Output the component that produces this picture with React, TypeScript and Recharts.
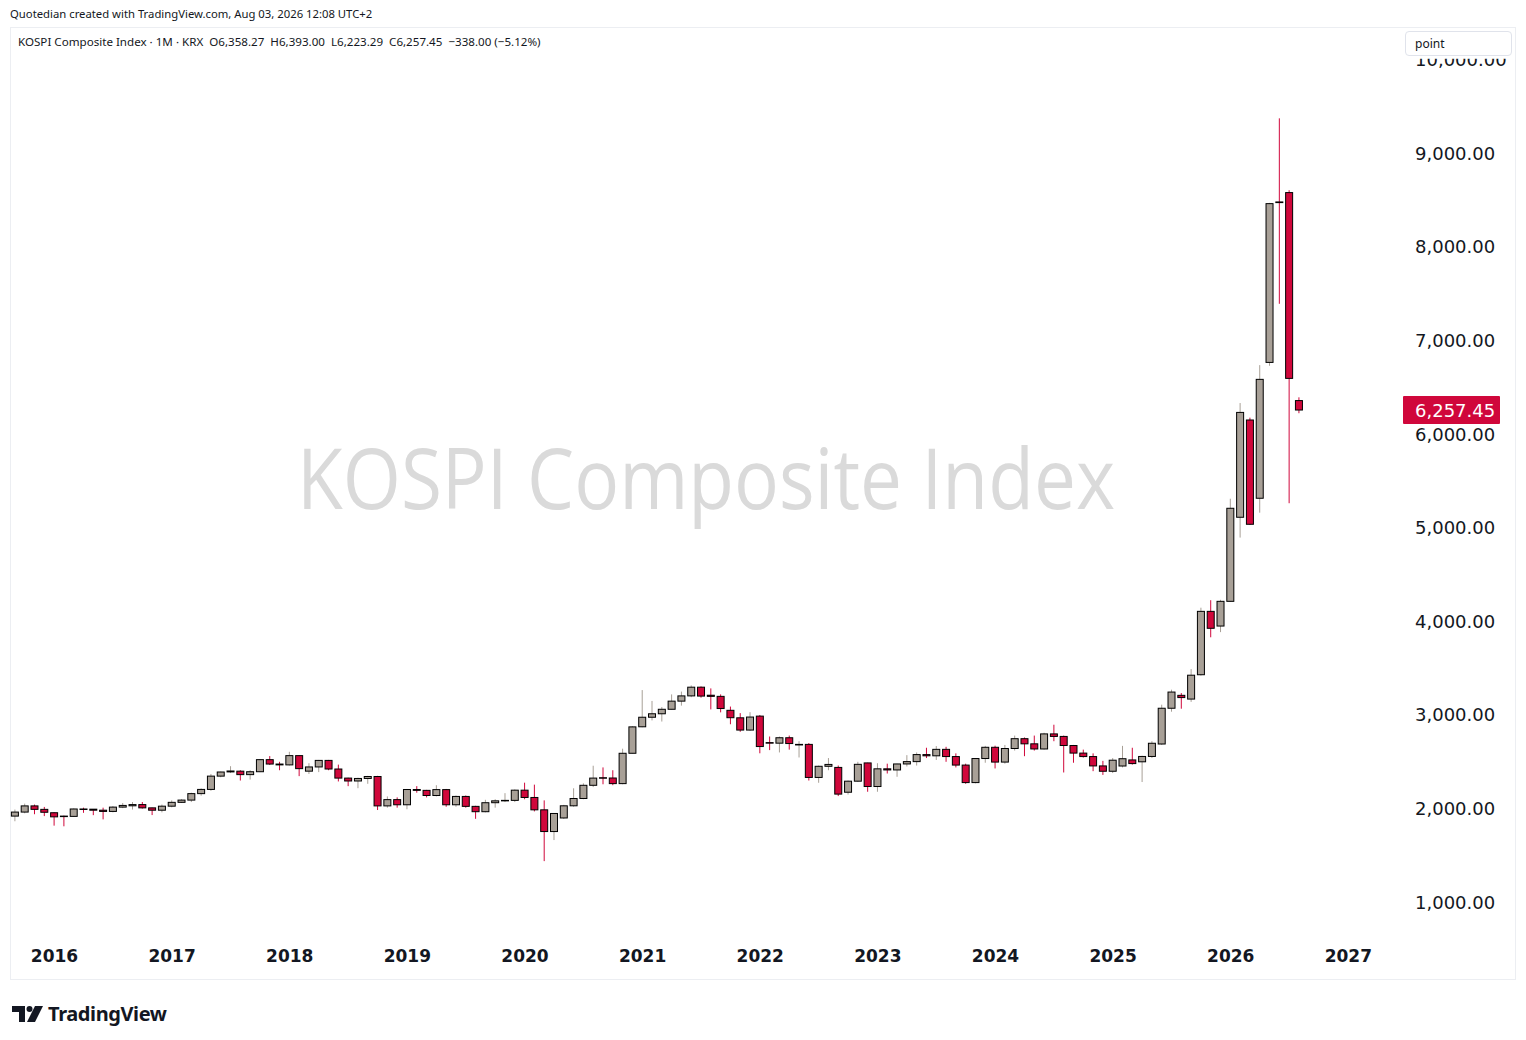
import React from "react";
import { ComposedChart, Bar, XAxis, YAxis } from "recharts";

// monthly candles, Sep 2015 .. Aug 2026 (t = months from Jan 2016)
const firstMonth = -4;

const opens = [
  1920, 1963, 2029, 1992,
  1956, 1920, 1917, 1996, 1994, 1983, 1970, 2016, 2030, 2043, 2008, 1983,
  2026, 2067, 2091, 2160, 2205, 2347, 2392, 2400, 2363, 2394, 2523, 2476,
  2467, 2566, 2400, 2445, 2515, 2423, 2326, 2295, 2322, 2343, 2029, 2096,
  2041, 2204, 2195, 2140, 2203, 2041, 2130, 2024, 1967, 2063, 2083, 2088,
  2197, 2119, 1987, 1755, 1900, 2030, 2108, 2249, 2330, 2327, 2267, 2591,
  2874, 2976, 3013, 3061, 3148, 3204, 3297, 3211, 3199, 3050, 2970, 2839,
  2988, 2705, 2699, 2757, 2680, 2686, 2333, 2452, 2440, 2175, 2293, 2488,
  2236, 2425, 2413, 2477, 2502, 2577, 2564, 2633, 2556, 2465, 2278, 2535,
  2655, 2497, 2642, 2747, 2692, 2637, 2798, 2771, 2674, 2593, 2556, 2456,
  2399, 2455, 2520, 2500, 2557, 2690, 3072, 3210, 3170, 3430, 4107, 3950,
  4214, 5112, 6151, 5315, 6766, 8480, 8580, 6358.27,
];
const highs = [
  1990, 2053, 2043, 2018,
  1960, 1925, 2002, 2010, 1995, 2010, 2027, 2060, 2070, 2070, 2010, 2043,
  2088, 2100, 2170, 2216, 2370, 2395, 2453, 2410, 2410, 2530, 2561, 2500,
  2607, 2570, 2485, 2520, 2520, 2470, 2330, 2330, 2350, 2350, 2130, 2120,
  2210, 2240, 2200, 2250, 2210, 2140, 2140, 2030, 2094, 2100, 2165, 2205,
  2277, 2256, 2088, 1950, 2040, 2217, 2270, 2458, 2440, 2410, 2640, 2880,
  3266, 3150, 3085, 3220, 3250, 3316, 3305, 3284, 3220, 3090, 3020, 3030,
  3000, 2770, 2770, 2780, 2720, 2700, 2460, 2540, 2460, 2300, 2500, 2490,
  2485, 2480, 2480, 2571, 2600, 2650, 2668, 2660, 2590, 2480, 2535, 2670,
  2672, 2680, 2780, 2760, 2780, 2810, 2896, 2780, 2680, 2630, 2590, 2510,
  2540, 2670, 2650, 2565, 2720, 3110, 3270, 3234, 3490, 4146, 4226, 4230,
  5310, 6332, 6176, 6737, 8470, 9373, 8605, 6393.0,
];
const lows = [
  1865, 1950, 1940, 1920,
  1818, 1811, 1915, 1955, 1930, 1885, 1960, 2005, 1990, 2000, 1931, 1960,
  2014, 2060, 2070, 2138, 2190, 2335, 2380, 2300, 2310, 2390, 2466, 2410,
  2460, 2347, 2370, 2390, 2410, 2290, 2240, 2218, 2265, 1985, 2010, 2010,
  1993, 2170, 2120, 2130, 2020, 2020, 2010, 1891, 1960, 2010, 2070, 2070,
  2100, 1970, 1439, 1664, 1890, 2020, 2100, 2230, 2260, 2250, 2260, 2590,
  2869, 2942, 2930, 3060, 3100, 3190, 3185, 3060, 3028, 2901, 2820, 2830,
  2591, 2625, 2600, 2630, 2546, 2300, 2276, 2410, 2134, 2150, 2285, 2180,
  2180, 2375, 2340, 2450, 2460, 2540, 2520, 2500, 2440, 2265, 2270, 2490,
  2429, 2480, 2620, 2560, 2620, 2630, 2720, 2386, 2490, 2545, 2400, 2360,
  2380, 2440, 2470, 2284, 2540, 2680, 3035, 3067, 3140, 3420, 3830, 3885,
  4210, 4895, 5030, 5161, 6730, 7392, 5262, 6223.29,
];
const closes = [
  1963, 2029, 1992, 1961,
  1912, 1917, 1996, 1994, 1983, 1970, 2016, 2034, 2043, 2008, 1983, 2026,
  2067, 2091, 2160, 2205, 2347, 2391, 2402, 2363, 2394, 2523, 2476, 2467,
  2566, 2427, 2445, 2515, 2423, 2326, 2295, 2322, 2343, 2029, 2096, 2041,
  2204, 2195, 2140, 2203, 2041, 2130, 2024, 1967, 2063, 2083, 2088, 2197,
  2119, 1987, 1755, 1948, 2030, 2108, 2249, 2326, 2327, 2267, 2591, 2873,
  2976, 3013, 3061, 3148, 3204, 3297, 3202, 3199, 3069, 2971, 2839, 2978,
  2663, 2699, 2757, 2695, 2686, 2333, 2452, 2472, 2155, 2293, 2473, 2236,
  2425, 2413, 2477, 2502, 2577, 2564, 2633, 2556, 2465, 2278, 2535, 2655,
  2497, 2642, 2747, 2692, 2637, 2798, 2771, 2674, 2593, 2556, 2456, 2399,
  2517, 2533, 2481, 2557, 2698, 3072, 3245, 3186, 3425, 4107, 3926, 4214,
  5208, 6232, 5037, 6585, 8462, 8473, 6595.45, 6257.45,
];

const yearLabels = ["2016", "2017", "2018", "2019", "2020", "2021", "2022", "2023", "2024", "2025", "2026", "2027"];
const yearTicks = yearLabels.map((_, i) => i * 12);
const priceTicks = [1000, 2000, 3000, 4000, 5000, 6000, 7000, 8000, 9000, 10000];
const lastClose = closes[closes.length - 1];

const data = opens.map((o, i) => ({
  t: firstMonth + i,
  open: o,
  high: highs[i],
  low: lows[i],
  close: closes[i],
}));

const UP = "#a8a097";
const DOWN = "#d0073b";
const AXIS_FONT = "'DejaVu Sans', sans-serif";

const fmt = (v: number) =>
  v.toLocaleString("en-US", { minimumFractionDigits: 2, maximumFractionDigits: 2 });

const Candle = (props: any) => {
  const { x, y, width, height, payload } = props;
  if (!payload) return null;
  const { open, close, high, low } = payload;
  const top = Math.min(y, y + height);
  const bot = Math.max(y, y + height);
  const span = high - low || 1;
  const toY = (v: number) => top + ((high - v) / span) * (bot - top);
  const cx = x + width / 2;
  const up = close >= open;
  const bTop = toY(Math.max(open, close));
  const bBot = toY(Math.min(open, close));
  const bw = 7;
  return (
    <g>
      <line x1={cx} x2={cx} y1={top} y2={bot} stroke={up ? UP : DOWN} strokeWidth={1} />
      <rect
        x={cx - bw / 2}
        y={bTop}
        width={bw}
        height={Math.max(bBot - bTop, 0.5)}
        fill={up ? UP : DOWN}
        stroke="#000"
        strokeWidth={1}
      />
    </g>
  );
};

const PriceTick = (props: any) => {
  const { x, y, payload } = props;
  if (payload.value === lastClose) {
    return (
      <g>
        <rect x={x + 3} y={y - 14} width={97} height={28} fill={DOWN} rx={1} />
        <text x={x + 15} y={y} dy="0.36em" fill="#fff" fontSize={18} fontFamily={AXIS_FONT}>
          {fmt(payload.value)}
        </text>
      </g>
    );
  }
  if (payload.value === 10000) {
    // top label is cut off by the pane edge, only its lower half shows
    return (
      <g>
        <defs>
          <clipPath id="topTickClip">
            <rect x={x} y={y - 1} width={120} height={20} />
          </clipPath>
        </defs>
        <text clipPath="url(#topTickClip)" x={x + 15} y={y} dy="0.36em" fill="#131722" fontSize={18} fontFamily={AXIS_FONT}>
          {fmt(payload.value)}
        </text>
      </g>
    );
  }
  return (
    <text x={x + 15} y={y} dy="0.36em" fill="#131722" fontSize={18} fontFamily={AXIS_FONT}>
      {fmt(payload.value)}
    </text>
  );
};

const YearTick = (props: any) => {
  const { x, y, payload } = props;
  const label = yearLabels[yearTicks.indexOf(payload.value)];
  return (
    <text x={x} y={y + 27} textAnchor="middle" fill="#131722" fontSize={17} fontWeight="bold" fontFamily={AXIS_FONT}>
      {label}
    </text>
  );
};

export default function App() {
  return (
    <div
      style={{
        position: "absolute",
        left: 0,
        top: 0,
        width: 1526,
        height: 1040,
        background: "#fff",
        fontFamily: "'Noto Sans', sans-serif",
        color: "#131722",
        overflow: "hidden",
      }}
    >
      <div style={{ position: "absolute", left: 10, top: 6, fontSize: 11.3, whiteSpace: "nowrap" }}>
        Quotedian created with TradingView.com, Aug 03, 2026 12:08 UTC+2
      </div>

      <div
        style={{
          position: "absolute",
          left: 10,
          top: 27,
          width: 1506,
          height: 953,
          border: "1px solid #eceef2",
          boxSizing: "border-box",
        }}
      />

      <svg style={{ position: "absolute", left: 0, top: 0 }} width={1526} height={1040}>
        <text
          x={706}
          y={509}
          textAnchor="middle"
          fontSize={84}
          fill="#dadada"
          fontFamily="'Open Sans', sans-serif"
          textLength={818}
          lengthAdjust="spacingAndGlyphs"
        >
          KOSPI Composite Index
        </text>
      </svg>

      <div style={{ position: "absolute", left: 10, top: 27 }}>
        <ComposedChart width={1506} height={953} data={data} margin={{ top: 23, right: 0, bottom: 0, left: 0 }}>
          <XAxis
            dataKey="t"
            type="number"
            domain={[-4.54, 137.27]}
            allowDataOverflow
            ticks={yearTicks}
            interval={0}
            height={45}
            axisLine={false}
            tickLine={false}
            tickSize={0}
            tickMargin={0}
            tick={<YearTick />}
          />
          <YAxis
            orientation="right"
            type="number"
            width={116}
            domain={[650, 10103]}
            allowDataOverflow
            ticks={[...priceTicks, lastClose]}
            interval={0}
            axisLine={false}
            tickLine={false}
            tickSize={0}
            tickMargin={0}
            tick={<PriceTick />}
          />
          <Bar
            dataKey={(d: any) => [d.low, d.high]}
            barSize={7}
            shape={<Candle />}
            isAnimationActive={false}
          />
        </ComposedChart>
      </div>

      <div style={{ position: "absolute", left: 18, top: 34, fontSize: 11.6, whiteSpace: "nowrap" }}>
        KOSPI Composite Index · 1M · KRX&nbsp;&nbsp;O6,358.27&nbsp;&nbsp;H6,393.00&nbsp;&nbsp;L6,223.29&nbsp;&nbsp;C6,257.45&nbsp;&nbsp;−338.00 (−5.12%)
      </div>

      <div
        style={{
          position: "absolute",
          left: 1405,
          top: 31,
          width: 107,
          height: 25,
          background: "#fff",
          border: "1px solid #e0e3eb",
          borderRadius: 4,
          boxSizing: "border-box",
          fontSize: 12,
          lineHeight: "23px",
          paddingLeft: 9,
        }}
      >
        point
      </div>

      <div style={{ position: "absolute", left: 12, top: 1000, display: "flex", alignItems: "center" }}>
        <svg width={32} height={18} viewBox="0 0 32 18">
          <path d="M0 1 H13 V17 H7 V7 H0 Z" fill="#131722" />
          <circle cx={17.5} cy={4} r={3} fill="#131722" />
          <path d="M23 1 H31 L23 17 H15 Z" fill="#131722" />
        </svg>
        <span style={{ marginLeft: 4, fontSize: 20, fontWeight: 700, letterSpacing: -0.4 }}>TradingView</span>
      </div>
    </div>
  );
}
